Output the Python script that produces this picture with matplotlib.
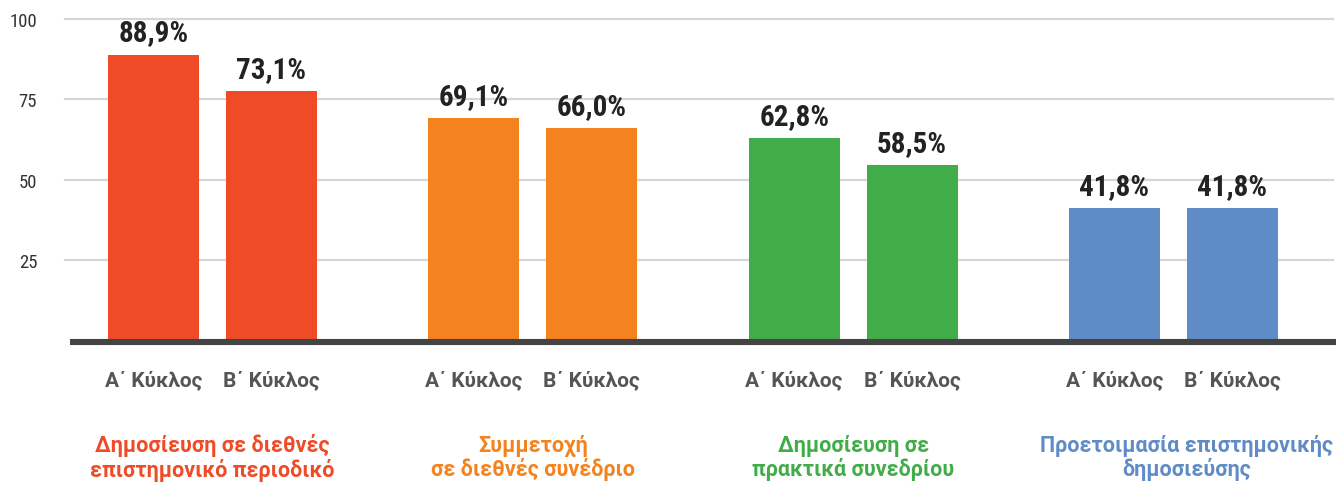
import matplotlib
matplotlib.use("Agg")
import matplotlib.pyplot as plt
import numpy as np

# ---- data ----
groups = ["Δημοσίευση σε διεθνές\nεπιστημονικό περιοδικό",
          "Συμμετοχή\nσε διεθνές συνέδριο",
          "Δημοσίευση σε\nπρακτικά συνεδρίου",
          "Προετοιμασία επιστημονικής\nδημοσιεύσης"]
cycles = ["Α΄ Κύκλος", "Β΄ Κύκλος"]
# bar heights as drawn in the picture
cycle_a_heights = [88.9, 69.1, 62.8, 41.0]
cycle_b_heights = [77.5, 66.0, 54.4, 41.0]
# value labels as printed
cycle_a_labels = ["88,9%", "69,1%", "62,8%", "41,8%"]
cycle_b_labels = ["73,1%", "66,0%", "58,5%", "41,8%"]
yticks = [25, 50, 75, 100]

colors = ["#EE4B26", "#F4821F", "#41AD49", "#5F8BC6"]

COND = ["Roboto Condensed", "DejaVu Sans"]
REG = ["Roboto", "DejaVu Sans"]
plt.rcParams["font.family"] = COND

W, H = 1336, 485
fig = plt.figure(figsize=(W / 100, H / 100), dpi=100)
ax_left, ax_right, ax_bottom, ax_top = 65, 1336, 341, 20  # pixels
ax = fig.add_axes([ax_left / W, (H - ax_bottom) / H,
                   (ax_right - ax_left) / W, (ax_bottom - ax_top) / H])

step = 320.3           # px per group
g0 = 212.5             # px centre of first group
off = 0.184            # half distance between paired bars (group units)
bw = 0.284             # bar width (group units)

ax.set_xlim((ax_left - g0) / step, (ax_right - g0) / step)
ax.set_ylim(0, 100)

xg = np.arange(len(groups))
xa = xg - off
xb = xg + off

ax.bar(xa, cycle_a_heights, width=bw, color=colors, zorder=3)
ax.bar(xb, cycle_b_heights, width=bw, color=colors, zorder=3)

# gridlines
for t in yticks:
    ax.axhline(t, xmin=0, xmax=(1333 - ax_left) / (ax_right - ax_left),
               color="#d6d6d6", lw=1.6, zorder=1, clip_on=False)

# baseline
ax.axhline(-0.62, xmin=5 / (ax_right - ax_left), xmax=1, color="#444444",
           lw=4.4, zorder=4, clip_on=False, solid_capstyle="butt")

for s in ax.spines.values():
    s.set_visible(False)
ax.set_xticks([])
ax.set_yticks(yticks)
ax.set_yticklabels([str(t) for t in yticks], fontsize=13.5, color="#333333",
                   fontweight="normal")
ax.tick_params(axis="y", length=0, pad=20)

# value labels
for xs, hs, ls in [(xa, cycle_a_heights, cycle_a_labels),
                   (xb, cycle_b_heights, cycle_b_labels)]:
    for x, h, l in zip(xs, hs, ls):
        ax.annotate(l, (x, h), xytext=(0, 10.3), textcoords="offset points",
                    ha="center", va="baseline", fontsize=21, fontweight="bold",
                    color="#222222", zorder=5, annotation_clip=False)

# category labels
tr = ax.get_xaxis_transform()
y_cat = (ax_bottom - 380) / (ax_bottom - ax_top)
for xs, name in [(xa, cycles[0]), (xb, cycles[1])]:
    for x in xs:
        ax.text(x, y_cat, name, transform=tr, ha="center", va="center",
                fontsize=15, fontweight="bold", color="#555555", family=REG)

# group labels
y_grp = (ax_bottom - 458) / (ax_bottom - ax_top)
label_shift = [0, 0, 0, 0.04]
for x, g, c, s in zip(xg, groups, colors, label_shift):
    ax.text(x + s, y_grp, g, transform=tr, ha="center", va="center",
            fontsize=15.5, fontweight="bold", color=c, linespacing=1.1,
            family=REG)

fig.savefig("out.png", dpi=100)
